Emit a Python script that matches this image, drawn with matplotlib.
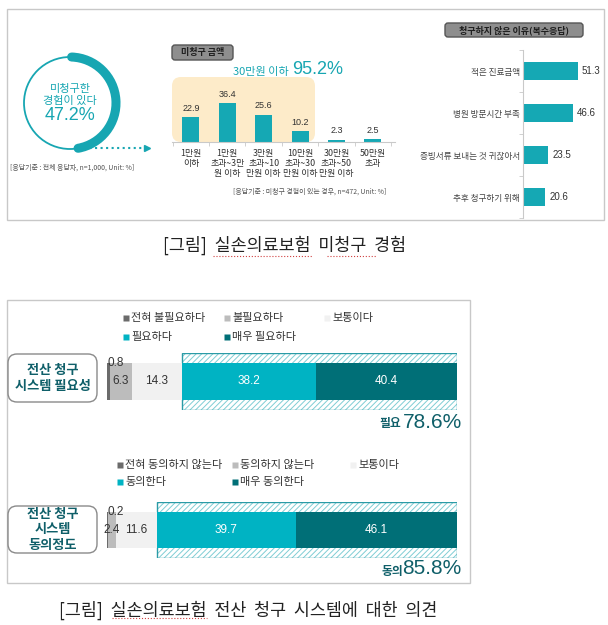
import matplotlib
matplotlib.use("Agg")
import matplotlib.pyplot as plt
from matplotlib.patches import FancyBboxPatch, Rectangle, Arc, Circle

plt.rcParams['font.family'] = ['Noto Sans CJK KR', 'DejaVu Sans']
plt.rcParams['hatch.linewidth'] = 0.7

W, H = 608, 625

# 데이터
experience_pct = 47.2
under30_pct = 95.2
amount_labels = ['1만원\n이하', '1만원\n초과~3만\n원 이하', '3만원\n초과~10\n만원 이하',
                 '10만원\n초과~30\n만원 이하', '30만원\n초과~50\n만원 이하', '50만원\n초과']
amount_values = [22.9, 36.4, 25.6, 10.2, 2.3, 2.5]

reason_labels = ['적은 진료금액', '병원 방문시간 부족', '증빙서류 보내는 것 귀찮아서', '추후 청구하기 위해']
reason_values = [51.3, 46.6, 23.5, 20.6]

need_labels = ['전혀 불필요하다', '불필요하다', '보통이다', '필요하다', '매우 필요하다']
need_values = [0.8, 6.3, 14.3, 38.2, 40.4]
agree_labels = ['전혀 동의하지 않는다', '동의하지 않는다', '보통이다', '동의한다', '매우 동의한다']
agree_values = [0.2, 2.4, 11.6, 39.7, 46.1]

seg_colors = ['#6b6b6b', '#bcbcbc', '#f1f1f1', '#00b3c3', '#006f77']
teal = '#17a6b2'
dark_teal = '#0f5f69'
num_font = ['Liberation Sans', 'DejaVu Sans']

fig = plt.figure(figsize=(W / 100, H / 100), dpi=100)
fig.patch.set_facecolor('white')

bg = fig.add_axes([0, 0, 1, 1])
bg.set_xlim(0, W)
bg.set_ylim(H, 0)
bg.axis('off')


def px_axes(x0, y0, x1, y1):
    ax = fig.add_axes([x0 / W, 1 - y1 / H, (x1 - x0) / W, (y1 - y0) / H])
    ax.patch.set_visible(False)
    return ax


def gray_tag(x0, y0, x1, y1, txt):
    bg.add_patch(FancyBboxPatch((x0, y0), x1 - x0, y1 - y0,
                                boxstyle='round,pad=0,rounding_size=3',
                                fc='#8e8e8e', ec='#555555', lw=1))
    bg.text((x0 + x1) / 2, (y0 + y1) / 2, txt, ha='center', va='center',
            fontsize=6.5, color='#1e1e1e', fontweight='bold')


# ---------- 위쪽 패널 ----------
bg.add_patch(Rectangle((7, 9), 597, 211, fill=False, ec='#c8c8c8', lw=1))

# 도넛
cx, cy, r = 70, 103, 46
bg.add_patch(Circle((cx, cy), r, fill=False, ec=teal, lw=1.3))
bg.add_patch(Arc((cx, cy), 2 * r, 2 * r, theta1=-88, theta2=-90 + 360 * experience_pct / 100,
                 ec=teal, lw=6.5, capstyle='round'))
bg.text(cx, 89, '미청구한', ha='center', va='center', fontsize=8, color=teal)
bg.text(cx, 101, '경험이 있다', ha='center', va='center', fontsize=8, color=teal)
bg.text(cx, 116, f'{experience_pct}%', ha='center', va='center', fontsize=13,
        color=teal, family=num_font)
bg.plot([84, 144], [148, 148], ls=':', color=teal, lw=1.5)
bg.plot(147, 148, marker='>', ms=4, color=teal)
bg.text(10, 168, '[응답기준 : 전체 응답자, n=1,000, Unit: %]', fontsize=5,
        color='#555555', va='center')

# 미청구 금액
gray_tag(172, 45, 233, 60, '미청구 금액')
bg.text(343, 70, f'{under30_pct}%', ha='right', va='center', fontsize=13,
        color=teal, family=num_font)
bg.text(289, 72, '30만원 이하', ha='right', va='center', fontsize=8, color=teal)
bg.add_patch(FancyBboxPatch((172, 77), 143, 65, boxstyle='round,pad=0,rounding_size=9',
                            fc='#fdebc9', ec='none'))

ax1 = px_axes(172, 82, 395, 142)
x = range(len(amount_values))
ax1.bar(x, amount_values, width=0.47, color='#15a8b4')
ax1.set_xlim(-0.52, 5.61)
ax1.set_ylim(0, 56)
for xi, v in zip(x, amount_values):
    ax1.text(xi, v + 4, f'{v}', ha='center', va='bottom', fontsize=6.5,
             color='#333333', family=num_font)
for s in ['top', 'right', 'left']:
    ax1.spines[s].set_visible(False)
ax1.spines['bottom'].set_color('#c9c9c9')
ax1.set_yticks([])
ax1.set_xticks(list(x))
ax1.set_xticklabels(amount_labels, fontsize=6.4, color='#333333', linespacing=1.15)
ax1.tick_params(axis='x', which='major', length=0, pad=5)
ax1.set_xticks([i + 0.5 for i in range(-1, 6)], minor=True)
ax1.tick_params(axis='x', which='minor', length=3, color='#c9c9c9')
bg.text(233, 192, '[응답기준 : 미청구 경험이 있는 경우, n=472, Unit: %]', fontsize=5,
        color='#555555', va='center')

# 청구하지 않은 이유
gray_tag(445, 23, 583, 37, '청구하지 않은 이유(복수응답)')
ax2 = px_axes(523, 50, 603, 218)
y = range(len(reason_values))
ax2.barh(y, reason_values, height=0.43, color='#15a8b4')
ax2.set_ylim(3.5, -0.5)
ax2.set_xlim(0, 75)
for yi, v in zip(y, reason_values):
    ax2.text(v + 4, yi, f'{v}', ha='left', va='center', fontsize=7,
             color='#333333', family=num_font)
for s in ['top', 'right', 'bottom']:
    ax2.spines[s].set_visible(False)
ax2.spines['left'].set_color('#c9c9c9')
ax2.set_xticks([])
ax2.set_yticks(list(y))
ax2.set_yticklabels(reason_labels, fontsize=6.2, color='#444444')
ax2.tick_params(axis='y', which='major', length=0, pad=2)
ax2.set_yticks([i + 0.5 for i in range(-1, 4)], minor=True)
ax2.tick_params(axis='y', which='minor', length=3, color='#c9c9c9')

# 캡션 1
bg.text(285, 245, '[그림]  실손의료보험  미청구  경험', ha='center', va='center',
        fontsize=12.5, color='#222222')
bg.plot([213, 312], [256, 256], ls=':', color='#d04040', lw=0.8)
bg.plot([327, 377], [256, 256], ls=':', color='#d04040', lw=0.8)

# ---------- 아래쪽 패널 ----------
bg.add_patch(Rectangle((7, 300), 463, 283, fill=False, ec='#c8c8c8', lw=1))


def legend(labels, cols, rows):
    pos = [(cols[0], rows[0]), (cols[1], rows[0]), (cols[2], rows[0]),
           (cols[0], rows[1]), (cols[1], rows[1])]
    for (lx, ly), lab, c in zip(pos, labels, seg_colors):
        bg.plot(lx, ly, marker='s', ms=5, color=c, mec='none')
        bg.text(lx + 5, ly, lab, ha='left', va='center', fontsize=8, color='#333333')


def label_box(x0, y0, x1, y1, txt):
    bg.add_patch(FancyBboxPatch((x0, y0), x1 - x0, y1 - y0,
                                boxstyle='round,pad=0,rounding_size=9',
                                fc='white', ec='#8a8a8a', lw=1))
    bg.text((x0 + x1) / 2, (y0 + y1) / 2, txt, ha='center', va='center',
            fontsize=9.5, color=dark_teal, fontweight='bold', linespacing=1.15)


def stacked(ax, values, half):
    left = 0
    agree_start = sum(values[:3])
    ax.barh(0, 100 - agree_start, left=agree_start, height=2 * half,
            color='white', ec='#7fcdd4', hatch='//////', lw=0)
    ax.barh(0, 100 - agree_start, left=agree_start, height=2 * half,
            fill=False, ec='#2a9ba6', lw=1)
    for v, c in zip(values, seg_colors):
        ax.barh(0, v, left=left, height=1, color=c, lw=0)
        left += v
    ax.set_xlim(0, 100)
    ax.set_ylim(-half, half)
    ax.axis('off')


# 필요성
legend(need_labels, [126, 227, 327], [318, 337])
label_box(8, 354, 97, 402, '전산 청구\n시스템 필요성')
ax3 = px_axes(107, 353, 457, 410)
stacked(ax3, need_values, 0.77)
ax3.text(0, 0.5, f'{need_values[0]}', ha='left', va='center', fontsize=8.5,
         color='#333333', family=num_font)
starts = [sum(need_values[:i]) for i in range(5)]
for i in range(1, 5):
    ax3.text(starts[i] + need_values[i] / 2, 0, f'{need_values[i]}', ha='center',
             va='center', fontsize=8.5, color='#333333' if i < 3 else 'white',
             family=num_font)
bg.text(462, 422, f'{need_values[3] + need_values[4]:.1f}%', ha='right', va='center',
        fontsize=15, color=dark_teal, family=num_font)
bg.text(401, 424, '필요', ha='right', va='center', fontsize=8.5, color=dark_teal,
        fontweight='bold')

# 동의정도
legend(agree_labels, [120, 235, 353], [465, 482])
label_box(8, 506, 97, 553, '전산 청구\n시스템\n동의정도')
ax4 = px_axes(107, 502, 457, 558)
stacked(ax4, agree_values, 0.78)
ax4.text(0, 0.5, f'{agree_values[0]}', ha='left', va='center', fontsize=8.5,
         color='#333333', family=num_font)
starts = [sum(agree_values[:i]) for i in range(5)]
for i in range(1, 5):
    ax4.text(starts[i] + agree_values[i] / 2, 0, f'{agree_values[i]}', ha='center',
             va='center', fontsize=8.5, color='#333333' if i < 3 else 'white',
             family=num_font)
bg.text(461, 569, f'{agree_values[3] + agree_values[4]:.1f}%', ha='right', va='center',
        fontsize=15, color=dark_teal, family=num_font)
bg.text(403, 572, '동의', ha='right', va='center', fontsize=8.5, color=dark_teal,
        fontweight='bold')

# 캡션 2
bg.text(248, 610, '[그림]  실손의료보험  전산  청구  시스템에  대한  의견', ha='center',
        va='center', fontsize=12.5, color='#222222')
bg.plot([112, 207], [618, 618], ls=':', color='#d04040', lw=0.8)

fig.savefig('out.png', dpi=100, facecolor='white')
